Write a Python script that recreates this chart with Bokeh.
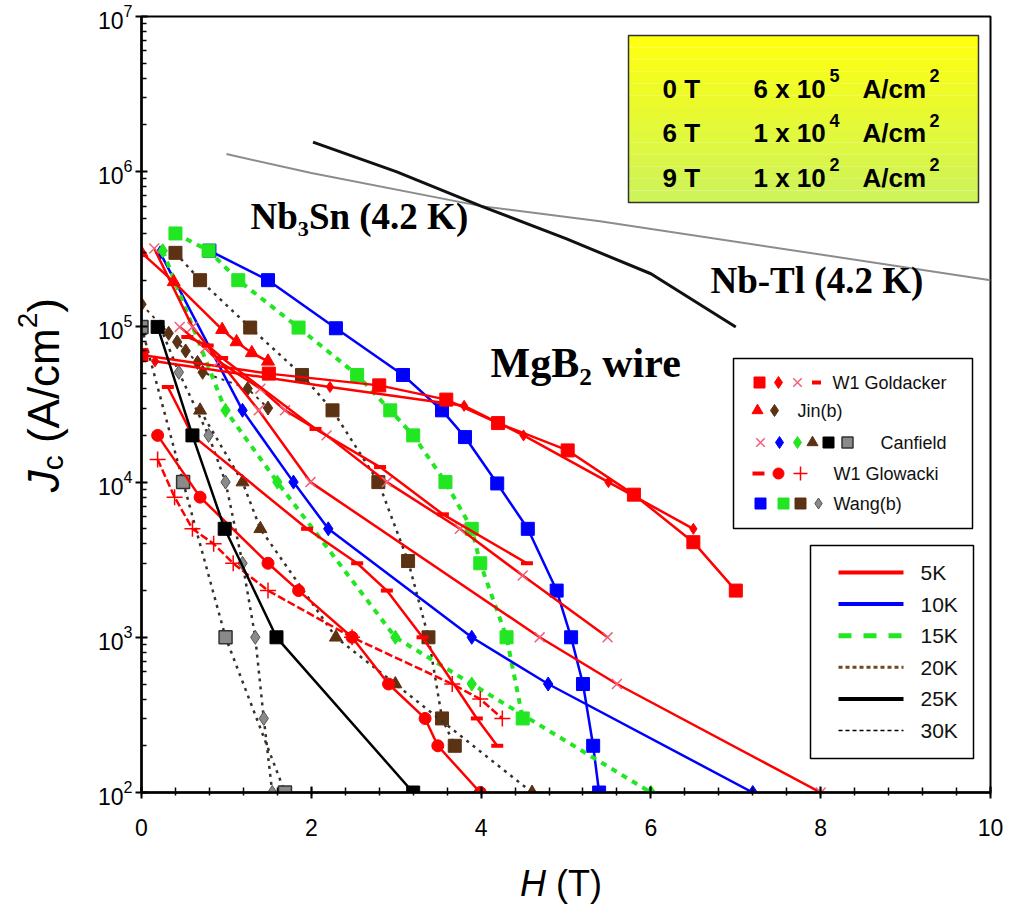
import math
from bokeh.plotting import figure
from bokeh.models import Range1d, SingleIntervalTicker, FixedTicker, Label, Div
from bokeh.layouts import row, column
from bokeh.embed import file_html
from bokeh.resources import INLINE

# ---------------- data ----------------
# reference conductors at 4.2 K
nb3sn_h = [1.0, 2.0, 4.0, 5.4, 10.0]
nb3sn_jc = [1.3e6, 9.8e5, 6.0e5, 4.8e5, 2.0e5]
nbti_h = [2.02, 3.0, 4.0, 5.0, 6.0, 7.0]
nbti_jc = [1.55e6, 1.0e6, 6.0e5, 3.7e5, 2.2e5, 1.0e5]

# W1 Goldacker
gold_sq_h = [0.0, 1.5, 2.8, 3.59, 4.2, 5.02, 5.8, 6.5, 7.0]
gold_sq_jc = [6.6e4, 5.0e4, 4.2e4, 3.4e4, 2.4e4, 1.6e4, 8.3e3, 4.1e3, 2.0e3]
gold_dm_h = [0.16, 2.22, 3.8, 4.5, 5.5, 6.5]
gold_dm_jc = [6.0e4, 4.1e4, 3.1e4, 2.0e4, 1.0e4, 5.0e3]
gold_x_h = [0.45, 0.75, 0.91, 1.4, 1.69, 2.18, 2.89, 3.75, 4.49, 5.49]
gold_x_jc = [1.0e5, 7.3e4, 6.0e4, 4.0e4, 2.9e4, 2.0e4, 1.0e4, 5.0e3, 2.5e3, 1.0e3]
gold_dash_h = [0.54, 0.78, 0.95, 2.05, 2.81, 3.55, 4.54]
gold_dash_jc = [8.6e4, 7.6e4, 6.3e4, 2.2e4, 1.25e4, 6.2e3, 3.0e3]

# Jin(b)
jin_tri_h = [0.0, 0.38, 0.95, 1.12, 1.3, 1.49]
jin_tri_jc = [3.0e5, 1.95e5, 9.6e4, 8.0e4, 6.8e4, 6.0e4]
jin_dm_h = [0.0, 0.32, 0.42, 0.52, 0.66, 0.72, 1.25, 1.49]
jin_dm_jc = [1.4e5, 9.1e4, 8.0e4, 7.0e4, 5.9e4, 5.1e4, 4.0e4, 3.0e4]

# Canfield (5, 10, 15, 20, 25, 30 K)
can5_h = [0.15, 0.6, 1.38, 1.99, 4.69, 5.6, 8.0]
can5_jc = [3.2e5, 1.0e5, 2.9e4, 1.0e4, 1.0e3, 5.0e2, 1.0e2]
can10_h = [0.22, 1.19, 1.79, 2.2, 3.89, 4.79, 7.2]
can10_jc = [3.0e5, 2.9e4, 1.0e4, 5.0e3, 1.0e3, 5.0e2, 1.0e2]
can15_h = [0.25, 0.99, 1.6, 2.99, 3.89, 6.0]
can15_jc = [3.1e5, 2.9e4, 1.0e4, 1.0e3, 5.0e2, 1.0e2]
can20_h = [0.69, 1.19, 1.4, 2.29, 2.99, 4.6]
can20_jc = [2.9e4, 1.0e4, 5.0e3, 1.0e3, 5.0e2, 1.0e2]
can25_h = [0.19, 0.6, 0.98, 1.59, 3.2]
can25_jc = [1.0e5, 2.0e4, 5.0e3, 1.0e3, 1.0e2]
can30_h = [0.0, 0.49, 0.99, 1.69]
can30_jc = [1.0e5, 1.0e4, 1.0e3, 1.0e2]

# W1 Glowacki
glo_dash_h = [0.31, 0.6, 1.95, 2.54, 2.89, 3.31, 3.95, 4.19]
glo_dash_jc = [4.1e4, 2.0e4, 5.0e3, 3.0e3, 2.0e3, 1.0e3, 3.0e2, 2.0e2]
glo_circ_h = [0.19, 0.69, 1.49, 1.85, 2.48, 2.91, 3.34, 3.49, 3.99]
glo_circ_jc = [2.0e4, 8.0e3, 3.0e3, 2.0e3, 1.0e3, 5.0e2, 3.0e2, 2.0e2, 1.0e2]
glo_plus_h = [0.19, 0.39, 0.6, 0.85, 1.08, 1.49, 2.48, 3.66, 3.99, 4.25]
glo_plus_jc = [1.4e4, 8.0e3, 5.0e3, 4.0e3, 3.0e3, 2.0e3, 1.0e3, 5.0e2, 4.0e2, 3.0e2]

# Wang(b) (10, 15, 20, 30 K)
wang10_h = [0.8, 1.49, 2.29, 3.08, 3.54, 3.81, 4.19, 4.55, 4.89, 5.06, 5.2, 5.32, 5.39]
wang10_jc = [3.1e5, 2.0e5, 9.8e4, 4.9e4, 2.9e4, 1.95e4, 9.8e3, 5.0e3, 2.0e3, 1.0e3, 5.0e2, 2.0e2, 1.0e2]
wang15_h = [0.4, 0.79, 1.14, 1.85, 2.54, 2.93, 3.2, 3.58, 3.89, 3.99, 4.3, 4.49]
wang15_jc = [4.0e5, 3.1e5, 2.0e5, 9.9e4, 4.9e4, 2.9e4, 2.0e4, 1.0e4, 5.0e3, 3.0e3, 1.0e3, 3.0e2]
wang20_h = [0.4, 0.69, 1.28, 1.89, 2.25, 2.79, 3.14, 3.38, 3.54, 3.69]
wang20_jc = [3.0e5, 2.0e5, 9.9e4, 4.9e4, 2.9e4, 1.0e4, 3.1e3, 1.0e3, 3.0e2, 2.0e2]
wang30_h = [0.22, 0.44, 0.79, 0.99, 1.19, 1.34, 1.44, 1.54]
wang30_jc = [1.0e5, 5.1e4, 2.0e4, 1.0e4, 3.0e3, 1.0e3, 3.0e2, 1.0e2]

temp_labels = ["5K", "10K", "15K", "20K", "25K", "30K"]
box_rows = [("0 T", "6 x 10", "5"), ("6 T", "1 x 10", "4"), ("9 T", "1 x 10", "2")]
decades = [1e2, 1e3, 1e4, 1e5, 1e6, 1e7]

# ---------------- styles ----------------
RED = "#ff0000"
BLUE = "#0000ff"
GREEN = "#22e622"
BROWN = "#5b3213"
PINK = "#f0607a"
GRAYM = "#8a8a8a"
DOT = "#3a3028"
FONT = "Liberation Sans"
SERIF = "Liberation Serif"

# page layout: y-label strip | figure ; x-label strip below
YLAB_W = 70
FX0, FX1, FY0, FY1 = 141, 990, 16, 792   # frame in page pixels
BOTTOM = 60
FIG_H = FY1 + BOTTOM


def hx(px):
    return (px - FX0) / (FX1 - FX0) * 10.0


def jy(py):
    return 10 ** (7 - (py - FY0) / (FY1 - FY0) * 5.0)


p = figure(x_range=Range1d(0, 10), y_range=Range1d(1e2, 1e7), y_axis_type="log",
           frame_width=FX1 - FX0, frame_height=FY1 - FY0,
           min_border_left=FX0 - YLAB_W, min_border_top=FY0,
           min_border_right=18, min_border_bottom=BOTTOM,
           output_backend="svg", toolbar_location=None)
p.xgrid.visible = False
p.ygrid.visible = False
p.outline_line_color = "black"
p.outline_line_width = 2
p.background_fill_color = "white"
p.border_fill_color = "white"

p.xaxis.ticker = SingleIntervalTicker(interval=2, num_minor_ticks=5)
minor = [m * d for d in decades[:-1] for m in range(2, 10)]
p.yaxis.ticker = FixedTicker(ticks=decades, minor_ticks=minor)
for ax in (p.xaxis[0], p.yaxis[0]):
    ax.axis_line_width = 2.5
    ax.axis_line_color = "black"
    ax.major_tick_line_width = 2
    ax.minor_tick_line_width = 1.5
    ax.major_tick_in = 6
    ax.major_tick_out = 6
    ax.major_label_text_font = FONT
    ax.major_label_text_color = "black"
p.xaxis.minor_tick_in = 5
p.xaxis.minor_tick_out = 3
p.yaxis.minor_tick_in = 5
p.yaxis.minor_tick_out = 0
p.xaxis.major_label_text_font_size = "23px"
p.yaxis.major_label_text_font_size = "23px"
p.xaxis.major_label_standoff = 20
p.yaxis.major_label_standoff = 3

# ---------------- reference conductors ----------------
p.line(nb3sn_h, nb3sn_jc, line_color="#8c8c8c", line_width=2)
p.line(nbti_h, nbti_jc, line_color="#111111", line_width=3)


def series(h, jc, lcolor, ldash, lwidth, marker, fill, mline, size, mlw=1.0):
    p.line(h, jc, line_color=lcolor, line_dash=ldash, line_width=lwidth)
    p.scatter(h, jc, marker=marker, size=size, fill_color=fill, line_color=mline, line_width=mlw)


# dotted 20 K / 30 K curves
series(wang20_h, wang20_jc, DOT, "3 5", 2.5, "square", BROWN, BROWN, 13)
series(wang30_h, wang30_jc, DOT, "3 5", 2.5, "diamond", GRAYM, "#555555", 14)
series(can20_h, can20_jc, DOT, "3 5", 2.5, "triangle", BROWN, BROWN, 13)
series(can30_h, can30_jc, DOT, "3 5", 2.5, "square", GRAYM, "#333333", 13, 1.5)
series(jin_dm_h, jin_dm_jc, DOT, "3 5", 2, "diamond", BROWN, BROWN, 14)

# 10 K and 15 K
series(wang10_h, wang10_jc, BLUE, "solid", 2.5, "square", BLUE, BLUE, 13)
series(wang15_h, wang15_jc, GREEN, "6 6", 4, "square", GREEN, GREEN, 13)
series(can10_h, can10_jc, BLUE, "solid", 2.5, "diamond", BLUE, BLUE, 14)
series(can15_h, can15_jc, GREEN, "6 6", 4, "diamond", GREEN, GREEN, 14)

# 5 K red curves
series(gold_sq_h, gold_sq_jc, RED, "solid", 2.5, "square", RED, RED, 13)
series(gold_dm_h, gold_dm_jc, RED, "solid", 2.5, "diamond", RED, RED, 11)
series(gold_x_h, gold_x_jc, RED, "solid", 2.5, "x", None, PINK, 14, 1.5)
series(gold_dash_h, gold_dash_jc, RED, "solid", 2.5, "dash", None, RED, 12, 4)
series(jin_tri_h, jin_tri_jc, RED, "solid", 2.5, "triangle", RED, RED, 13)
series(can5_h, can5_jc, RED, "solid", 2.5, "x", None, PINK, 14, 1.5)
series(glo_dash_h, glo_dash_jc, RED, "solid", 2.5, "dash", None, RED, 12, 4)
series(glo_circ_h, glo_circ_jc, RED, "solid", 2.5, "circle", RED, RED, 12)
series(glo_plus_h, glo_plus_jc, RED, "8 3", 2.5, "cross", None, RED, 16, 1.5)

# 25 K
series(can25_h, can25_jc, "black", "solid", 2.5, "square", "black", "black", 13)

# ---------------- marker legend ----------------
p.quad(left=[hx(733)], right=[hx(972)], top=[jy(358)], bottom=[jy(528)],
       fill_color="white", line_color="black", line_width=1.5)


def mk(px, py, marker, fill, line, size, lw=1.0):
    p.scatter([hx(px)], [jy(py)], marker=marker, size=size, fill_color=fill,
              line_color=line, line_width=lw)


r1, r2, r3, r4, r5 = 382, 410, 442, 473, 503
mk(759, r1, "square", RED, RED, 11)
mk(778, r1, "diamond", RED, RED, 12)
mk(797, r1, "x", None, PINK, 12, 1.5)
mk(816, r1, "dash", None, RED, 9, 4)
mk(757, r2, "triangle", RED, RED, 11)
mk(774, r2, "diamond", BROWN, BROWN, 12)
mk(760, r3, "x", None, PINK, 12, 1.5)
mk(779, r3, "diamond", BLUE, BLUE, 12)
mk(797, r3, "diamond", GREEN, GREEN, 12)
mk(812, r3, "triangle", BROWN, BROWN, 11)
mk(828, r3, "square", "black", "black", 11)
mk(847, r3, "square", GRAYM, "#333333", 11, 1.5)
mk(758, r4, "dash", None, RED, 12, 4)
mk(778, r4, "circle", RED, RED, 11)
mk(800, r4, "cross", None, RED, 14, 1.5)
mk(760, r5, "square", BLUE, BLUE, 11)
mk(783, r5, "square", GREEN, GREEN, 11)
mk(800, r5, "square", BROWN, BROWN, 11)
mk(818, r5, "diamond", GRAYM, "#555555", 11)

legend_texts = [(832, r1, "W1 Goldacker"), (797, r2, "Jin(b)"), (880, r3, "Canfield"),
                (833, r4, "W1 Glowacki"), (833, r5, "Wang(b)")]
for px, py, t in legend_texts:
    p.add_layout(Label(x=hx(px), y=jy(py), text=t, text_font=FONT, text_font_size="18px",
                       text_baseline="middle", text_align="left", text_color="#111111"))

# ---------------- temperature legend ----------------
p.quad(left=[hx(810)], right=[hx(973)], top=[jy(545)], bottom=[jy(758)],
       fill_color="white", line_color="black", line_width=1.5)
temp_styles = [(RED, "solid", 4), (BLUE, "solid", 4), (GREEN, "13 12", 5),
               ("#6b4a20", "4 3", 3), ("black", "solid", 4), ("black", "4 3", 1.5)]
for i, (lab, (c, d, w)) in enumerate(zip(temp_labels, temp_styles)):
    py = 572 + i * 31.6
    p.line([hx(838), hx(903)], [jy(py), jy(py)], line_color=c, line_dash=d, line_width=w)
    p.add_layout(Label(x=hx(920), y=jy(py), text=lab, text_font=FONT, text_font_size="21px",
                       text_baseline="middle", text_align="left", text_color="#111111"))

# ---------------- yellow box ----------------
nb = 14
top_c = (255, 255, 16)
bot_c = (206, 244, 90)
for i in range(nb):
    t = i / (nb - 1)
    col = "#%02x%02x%02x" % tuple(int(a + (b - a) * t) for a, b in zip(top_c, bot_c))
    y_a = 35 + (202 - 35) * i / nb
    y_b = 35 + (202 - 35) * (i + 1) / nb
    p.quad(left=[hx(628)], right=[hx(978)], top=[jy(y_a)], bottom=[jy(y_b)],
           fill_color=col, line_color=None)
p.quad(left=[hx(628)], right=[hx(978)], top=[jy(35)], bottom=[jy(202)],
       fill_color=None, line_color="#333333", line_width=1.5)
for i, (field, mant, expo) in enumerate(box_rows):
    base = 88 + i * 44.5
    common = dict(text_font=FONT, text_font_style="bold", text_baseline="alphabetic",
                  text_align="left", text_color="black")
    p.add_layout(Label(x=hx(662), y=jy(base), text=field, text_font_size="26px", **common))
    p.add_layout(Label(x=hx(753), y=jy(base), text=mant, text_font_size="26px", **common))
    p.add_layout(Label(x=hx(829), y=jy(base - 13), text=expo, text_font_size="18px", **common))
    p.add_layout(Label(x=hx(862), y=jy(base), text="A/cm", text_font_size="26px", **common))
    p.add_layout(Label(x=hx(929), y=jy(base - 13), text="2", text_font_size="18px", **common))

# ---------------- titles ----------------
p.add_layout(Label(x=hx(250), y=jy(236), text="Nb₃Sn (4.2 K)", text_font=SERIF,
                   text_font_style="bold", text_font_size="37px", text_color="black"))
p.add_layout(Label(x=hx(710), y=jy(300), text="Nb-Tl (4.2 K)", text_font=SERIF,
                   text_font_style="bold", text_font_size="37px", text_color="black"))
p.add_layout(Label(x=hx(490), y=jy(385), text="MgB₂ wire", text_font=SERIF,
                   text_font_style="bold", text_font_size="42px", text_color="black"))

# ---------------- axis titles (HTML strips beside the figure) ----------------
ylab_html = (
    '<div style="position:relative; top:298px; left:14px; writing-mode:vertical-rl; '
    'transform:rotate(180deg); font-family:\'Liberation Sans\',Arial,sans-serif; '
    'font-size:44px; line-height:1; white-space:nowrap; color:#000;">'
    '<i>J</i><sub style="font-size:30px;">c</sub> (A/cm<sup style="font-size:28px;">2</sup>)'
    '</div>'
)
xlab_html = (
    '<div style="position:relative; top:14px; left:520px; '
    'font-family:\'Liberation Sans\',Arial,sans-serif; font-size:36px; line-height:1; '
    'white-space:nowrap; color:#000;"><i>H</i> (T)</div>'
)
ydiv = Div(text=ylab_html, width=YLAB_W, height=FIG_H, margin=(0, 0, 0, 0))
xdiv = Div(text=xlab_html, width=FX1 + 18, height=56, margin=(0, 0, 0, 0))

layout = column(row(ydiv, p, spacing=0), xdiv, spacing=0)
open("out.html", "w").write(file_html(layout, INLINE))
